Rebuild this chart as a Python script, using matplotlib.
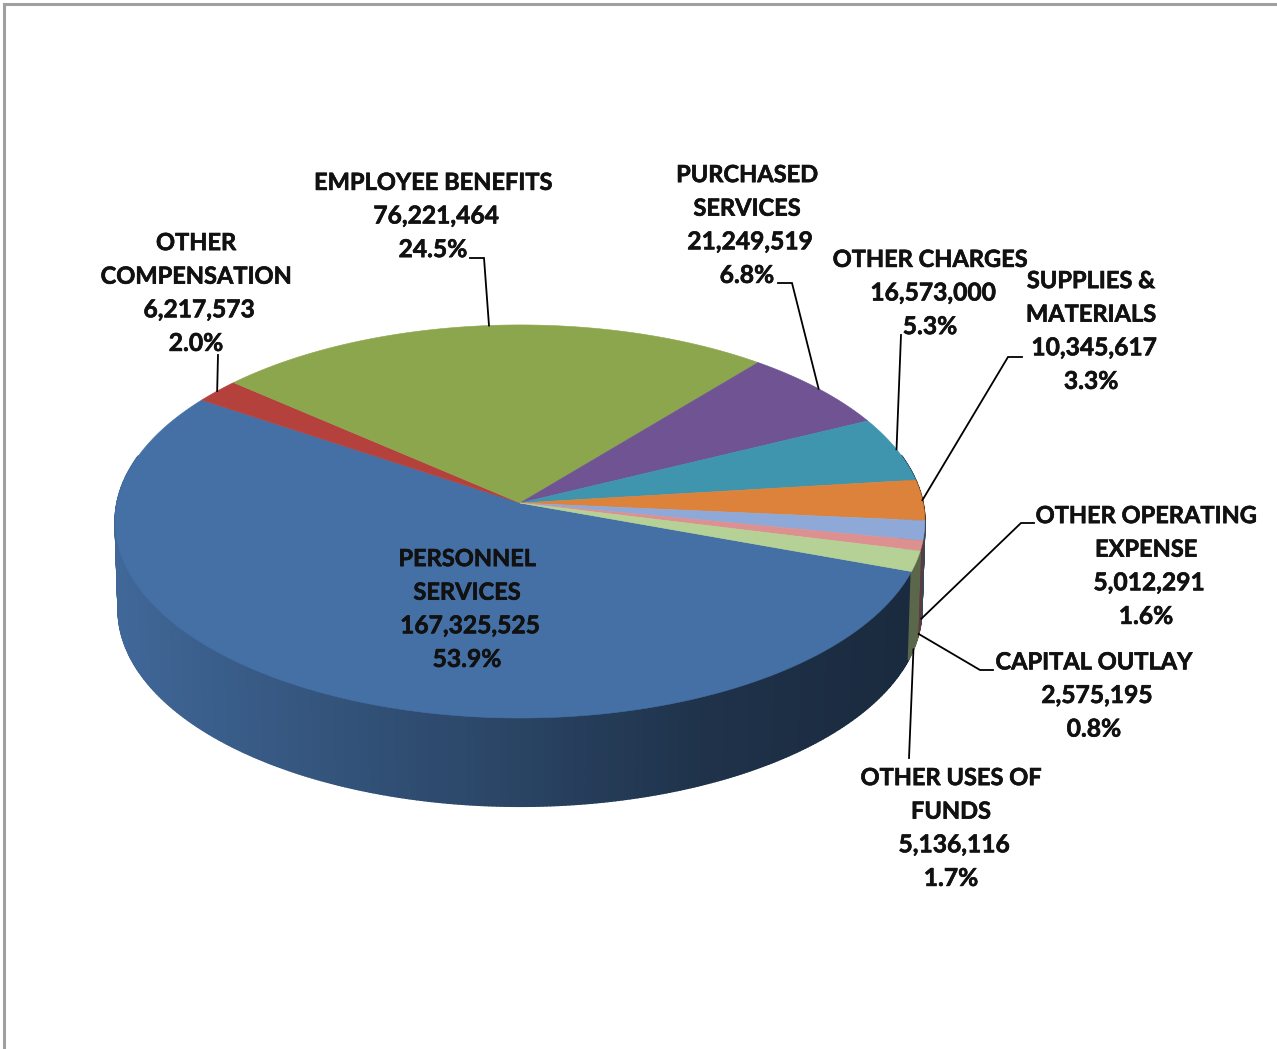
import numpy as np
import matplotlib
matplotlib.use("Agg")
import matplotlib.pyplot as plt
import matplotlib.patheffects as pe
from matplotlib.collections import PolyCollection
from matplotlib.patches import Polygon

# Budget categories in drawing order, clockwise from the start angle
categories = ["PERSONNEL\nSERVICES", "OTHER\nCOMPENSATION", "EMPLOYEE BENEFITS",
              "PURCHASED\nSERVICES", "OTHER CHARGES", "SUPPLIES &\nMATERIALS",
              "OTHER OPERATING\nEXPENSE", "CAPITAL OUTLAY", "OTHER USES OF\nFUNDS"]
values = [167325525, 6217573, 76221464, 21249519, 16573000, 10345617, 5012291, 2575195, 5136116]
colors = ["#4570A5", "#B5413D", "#8CA64E", "#6F5392", "#3F94AE", "#DD823A", "#8EA9D8", "#DD9090", "#B6D195"]

# Label block centres and the elbow points of each leader line, in pixels
label_pos = [(467, 608), (196, 292), (433, 215), (747, 224), (930, 292),
             (1091, 330), (1146, 565), (1094, 694.5), (951, 827)]
leader_elbows = [None, [(218, 355)], [(470, 258), (484, 258)], [(778, 283), (792, 283)],
                 [(901, 335)], [(1022, 357), (1008, 357)], [(1034, 523), (1021, 523)],
                 [(993, 670), (980, 670)], [(909, 758)]]
leader_on_base = [False, False, False, False, False, False, True, True, True]

START_DEG = 19.9
PERSPECTIVE = 0.094
TOP = dict(cx=520.0, cy=503.0, a=403.0, b=194.8)
BASE = dict(cx=520.0, cy=591.0, a=400.0, b=195.0)
SIDE_X = [100, 120, 300, 500, 700, 900, 1000]
SIDE_SHADE = [0.93, 0.92, 0.77, 0.62, 0.45, 0.38, 0.38]
SIDE_BOOST = [1.0, 1.1, 1.1, 1.1, 1.1, 1.1, 1.1, 1.1, 1.3]
LINE_STEP = 33.6
BASELINE_DROP = 8.5
NAME_SIZE = 17.0
NUMBER_SIZE = 17.7


def project(theta, plane):
    """Perspective projection of a rim point at angle theta (radians, clockwise on screen)."""
    u, v = np.cos(theta), np.sin(theta)
    w = 1 - PERSPECTIVE * v
    return plane["cx"] + plane["a"] * u / w, plane["cy"] + plane["b"] * v / w


fig = plt.figure(figsize=(12.77, 10.49), dpi=100, facecolor="white")
ax = fig.add_axes([0, 0, 1, 1])
ax.set_xlim(0, 1277)
ax.set_ylim(1049, 0)
ax.axis("off")

# Chart frame: only the top and left edges show
ax.plot([4, 4, 1277], [1049, 4, 4], color="#A0A0A0", lw=2.2, solid_joinstyle="miter", zorder=1)

total = sum(values)
sweeps = [v / total * 2 * np.pi for v in values]
edges = np.radians(START_DEG) + np.concatenate([[0], np.cumsum(sweeps)])

# Side wall, built from narrow strips so its shading follows the horizontal position
quads, quad_colors = [], []
for i, col in enumerate(colors):
    base = np.array(matplotlib.colors.to_rgb(col))
    n = max(int(sweeps[i] / np.radians(0.5)), 2)
    ts = np.linspace(edges[i], edges[i + 1], n + 1)
    for t0, t1 in zip(ts[:-1], ts[1:]):
        if np.sin((t0 + t1) / 2) < -0.25:
            continue
        pts = [project(t0, TOP), project(t1, TOP), project(t1, BASE), project(t0, BASE)]
        xm = (pts[0][0] + pts[1][0]) / 2
        shade = np.interp(xm, SIDE_X, SIDE_SHADE) * SIDE_BOOST[i]
        quads.append(pts)
        quad_colors.append(np.clip(base * shade, 0, 1))
ax.add_collection(PolyCollection(quads, facecolors=quad_colors, edgecolors=quad_colors,
                                 linewidths=1.2, zorder=2))

# Top face
for i, col in enumerate(colors):
    ts = np.linspace(edges[i], edges[i + 1], max(int(sweeps[i] / np.radians(0.5)), 2) + 1)
    arc = [project(t, TOP) for t in ts]
    ax.add_patch(Polygon([(TOP["cx"], TOP["cy"])] + arc, closed=True, facecolor=col,
                         edgecolor=col, lw=0.4, zorder=3))

# Leader lines run from each label's elbow to the middle of its slice on the rim
for i, elbow in enumerate(leader_elbows):
    if elbow is None:
        continue
    anchor = project((edges[i] + edges[i + 1]) / 2, BASE if leader_on_base[i] else TOP)
    path = np.array(elbow + [anchor])
    ax.plot(path[:, 0], path[:, 1], color="black", lw=1.3, zorder=4, solid_joinstyle="miter")

# Labels, one text per line; the value format carries a leading space
heavier = [pe.withStroke(linewidth=0.45, foreground="#111111")]
for name, v, (x, y) in zip(categories, values, label_pos):
    name_lines = name.split("\n")
    lines = name_lines + [f" {v:,}", f"{v / total * 100:.1f}%"]
    for k, line in enumerate(lines):
        size = NAME_SIZE if k < len(name_lines) else NUMBER_SIZE
        base_y = y + (k - (len(lines) - 1) / 2) * LINE_STEP + BASELINE_DROP
        ax.text(x, base_y, line, ha="center", va="baseline", family="Lato", weight="bold",
                fontsize=size, color="#111111", zorder=5, path_effects=heavier)

fig.savefig("out.png", dpi=100)
